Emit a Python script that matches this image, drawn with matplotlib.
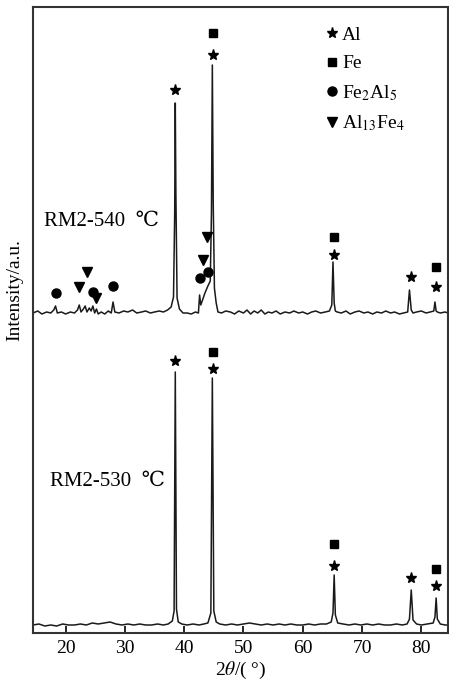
import matplotlib
matplotlib.use("Agg")
import matplotlib.pyplot as plt
from matplotlib.lines import Line2D

plt.rcParams['font.family'] = ['Liberation Serif', 'DejaVu Serif']
plt.rcParams['mathtext.fontset'] = 'stix'

# upper pattern (RM2-540 C)
x_540 = [14.5, 15.3, 16.0, 16.8, 17.5, 18.0, 18.3, 18.6, 19.3, 20.0, 20.8, 21.5, 22.0, 22.3, 22.6,
         23.0, 23.3, 23.6, 24.0, 24.3, 24.6, 24.9, 25.2, 25.5, 26.0, 26.6, 27.2, 27.7, 28.0, 28.3,
         29.0, 29.8, 30.5, 31.3, 32.0, 32.8, 33.5, 34.3, 35.0, 35.8, 36.5, 37.2, 37.8, 38.2, 38.4,
         38.5, 38.6, 38.8, 39.2, 39.8, 40.5, 41.2, 41.9, 42.4, 42.6, 42.8, 43.1, 43.5, 44.0, 44.4,
         44.6, 44.75, 44.9, 45.1, 45.4, 45.7, 46.3, 47.0, 47.8, 48.5, 49.2, 50.0, 50.6, 51.2, 51.8,
         52.4, 53.0, 53.6, 54.2, 54.8, 55.5, 56.2, 57.0, 57.8, 58.5, 59.3, 60.0, 60.8, 61.5, 62.2,
         63.0, 63.8, 64.5, 64.9, 65.1, 65.3, 65.5, 65.8, 66.5, 67.3, 68.0, 68.8, 69.5, 70.3, 71.0,
         71.8, 72.5, 73.3, 74.0, 74.8, 75.5, 76.3, 77.0, 77.7, 78.0, 78.3, 78.6, 79.2, 80.0, 80.8,
         81.5, 82.1, 82.3, 82.5, 82.7, 83.2, 84.0, 84.5]
y_540 = [320, 322, 319, 321, 320, 323, 327, 320, 321, 319, 321, 320, 323, 328, 321,
         324, 327, 321, 325, 322, 327, 320, 324, 319, 321, 319, 322, 320, 331, 321,
         320, 322, 321, 323, 320, 321, 322, 320, 321, 322, 321, 323, 326, 336, 420,
         530, 440, 335, 324, 320, 320, 319, 321, 320, 338, 328, 333, 340, 347, 352,
         420, 568, 430, 345, 330, 321, 320, 322, 321, 319, 322, 320, 323, 319, 322,
         320, 323, 319, 321, 320, 322, 319, 321, 320, 322, 320, 321, 319, 321, 322,
         320, 321, 322, 328, 371, 330, 322, 321, 320, 322, 319, 321, 322, 320, 321,
         319, 321, 320, 322, 320, 321, 319, 320, 321, 343, 323, 320, 321, 322, 320,
         321, 322, 331, 322, 321, 320, 321, 320]

# lower pattern (RM2-530 C)
x_530 = [14.5, 15.5, 16.5, 17.5, 18.5, 19.5, 20.5, 21.5, 22.5, 23.5, 24.5, 25.5, 26.5, 27.5, 28.5,
         29.5, 30.5, 31.5, 32.5, 33.5, 34.5, 35.5, 36.5, 37.3, 38.0, 38.3, 38.5, 38.7, 39.0, 39.6,
         40.5, 41.5, 42.5, 43.3, 44.0, 44.5, 44.75, 45.0, 45.4, 46.0, 47.0, 48.0, 49.0, 50.0, 51.0,
         52.0, 53.0, 54.0, 55.0, 56.0, 57.0, 58.0, 59.0, 60.0, 61.0, 62.0, 63.0, 64.0, 64.8, 65.1,
         65.3, 65.5, 65.9, 66.8, 67.8, 68.8, 69.8, 70.8, 71.8, 72.8, 73.8, 74.8, 75.8, 76.8, 77.6,
         78.0, 78.3, 78.6, 79.2, 80.0, 81.0, 82.0, 82.3, 82.5, 82.7, 83.2, 84.0, 84.5]
y_530 = [8, 9, 7, 8, 7, 9, 8, 8, 9, 8, 10, 9, 10, 11, 9,
         8, 9, 8, 9, 8, 8, 9, 8, 9, 12, 22, 261, 24, 11, 9,
         8, 9, 8, 9, 10, 20, 255, 22, 11, 9, 8, 9, 8, 9, 10,
         9, 8, 9, 8, 9, 8, 9, 8, 8, 9, 8, 9, 9, 11, 20,
         58, 18, 10, 9, 8, 9, 8, 9, 8, 9, 8, 8, 9, 8, 9,
         14, 43, 13, 9, 8, 9, 10, 16, 35, 14, 9, 8, 8]

# phase markers: (2theta, height)
al_pts = [(38.5, 543), (44.8, 578), (65.3, 378), (78.3, 356), (82.5, 346),
          (38.5, 272), (44.8, 264), (65.3, 67), (78.3, 55), (82.5, 47)]
fe_pts = [(44.8, 600), (65.3, 396), (82.5, 366),
          (44.8, 281), (65.3, 89), (82.5, 64)]
fe2al5_pts = [(18.3, 340), (24.6, 341), (28.0, 347), (42.7, 355), (44.0, 361)]
al13fe4_pts = [(22.3, 346), (23.6, 361), (25.1, 335), (43.1, 373), (43.8, 396)]

xticks = [20, 30, 40, 50, 60, 70, 80]

fig = plt.figure(figsize=(4.49, 6.89), dpi=100)
ax = fig.add_axes([33 / 449, 56 / 689, 415 / 449, 626 / 689])

ax.plot(x_540, y_540, color='#1a1a1a', lw=1.1)
ax.plot(x_530, y_530, color='#1a1a1a', lw=1.1)

def put(pts, marker, ms):
    ax.plot([p[0] for p in pts], [p[1] for p in pts], ls='none', marker=marker,
            ms=ms, color='black', mec='black')

put(al_pts, '*', 8)
put(fe_pts, 's', 5.5)
put(fe2al5_pts, 'o', 6.5)
put(al13fe4_pts, 'v', 6.5)

ax.text(16.4, 407, 'RM2-540  ℃', fontsize=15, va='baseline')
ax.text(17.3, 147, 'RM2-530  ℃', fontsize=15, va='baseline')

handles = [Line2D([], [], ls='none', marker='*', ms=8, color='black'),
           Line2D([], [], ls='none', marker='s', ms=5.5, color='black'),
           Line2D([], [], ls='none', marker='o', ms=6.5, color='black'),
           Line2D([], [], ls='none', marker='v', ms=6.5, color='black')]
labels = ['Al', 'Fe', 'Fe$_2$Al$_5$', 'Al$_{13}$Fe$_4$']
ax.legend(handles, labels, loc='upper left', bbox_to_anchor=(0.66, 1.0), frameon=False,
          fontsize=14, handlelength=0.6, handletextpad=0.2, labelspacing=0.55,
          borderaxespad=0.6)

ax.set_xlim(14.5, 84.5)
ax.set_ylim(0, 626)
ax.set_xticks(xticks)
ax.set_yticks([])
ax.tick_params(axis='x', direction='in', length=5, width=1.2, labelsize=14, pad=5)
for s in ax.spines.values():
    s.set_linewidth(1.5)
    s.set_color('#333333')

ax.set_xlabel(r'2$\theta$/( °)', fontsize=14, labelpad=2)
fig.text(15 / 449, 1 - 290 / 689, 'Intensity/a.u.', rotation=90, fontsize=14,
         ha='center', va='center')

fig.savefig('out.png', dpi=100)
